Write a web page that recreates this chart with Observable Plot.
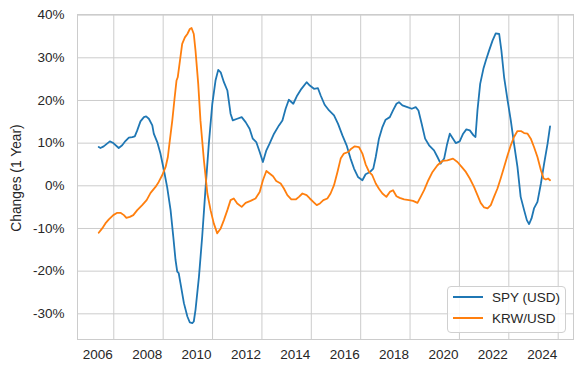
<!DOCTYPE html>
<html>
<head>
<meta charset="utf-8">
<script src="https://cdn.jsdelivr.net/npm/d3@7"></script>
<script src="https://cdn.jsdelivr.net/npm/@observablehq/plot@0.6"></script>
<style>
  body { margin: 0; background: #fff; }
  #wrap { position: relative; width: 582px; height: 373px; font-family: "Liberation Sans", Arial, sans-serif; color: #262626; }
  #legend { position: absolute; left: 447px; top: 286px; width: 117px; height: 45px; border: 1px solid #d0d0d0; border-radius: 4px; background: rgba(255,255,255,0.85); font-size: 13.5px; }
  .row { position: absolute; left: 0; height: 16px; }
  .row svg { position: absolute; left: 4px; top: 0; }
  .row span { position: absolute; left: 44px; top: 1px; line-height: 16px; white-space: nowrap; }
</style>
</head>
<body>
<div id="wrap"></div>
<script>
// Series: SPY (USD) 1-year change, percent, by decimal year
const spyDate = [2005.39,2005.46,2005.59,2005.84,2005.98,2006.20,2006.34,2006.47,2006.61,2006.75,2006.85,2006.95,2007.08,2007.22,2007.31,2007.42,2007.56,2007.62,2007.76,2007.89,2008.03,2008.16,2008.30,2008.41,2008.50,2008.57,2008.63,2008.70,2008.84,2008.98,2009.08,2009.18,2009.24,2009.31,2009.45,2009.58,2009.72,2009.85,2009.99,2010.12,2010.23,2010.33,2010.46,2010.60,2010.73,2010.82,2011.00,2011.18,2011.34,2011.50,2011.63,2011.77,2011.91,2012.04,2012.18,2012.31,2012.49,2012.69,2012.83,2012.96,2013.09,2013.27,2013.43,2013.60,2013.81,2013.94,2014.11,2014.27,2014.38,2014.54,2014.72,2014.92,2015.08,2015.26,2015.43,2015.59,2015.73,2015.89,2016.07,2016.20,2016.38,2016.51,2016.61,2016.74,2016.88,2017.01,2017.18,2017.31,2017.45,2017.55,2017.69,2017.89,2018.07,2018.23,2018.34,2018.47,2018.61,2018.77,2018.97,2019.11,2019.24,2019.38,2019.49,2019.61,2019.74,2019.85,2020.01,2020.15,2020.28,2020.42,2020.57,2020.65,2020.73,2020.84,2020.97,2021.07,2021.20,2021.34,2021.47,2021.61,2021.70,2021.81,2021.95,2022.08,2022.21,2022.35,2022.48,2022.62,2022.73,2022.82,2022.92,2023.02,2023.16,2023.30,2023.43,2023.57,2023.67];
const spyValue = [9.09,8.86,9.25,10.42,10.02,8.86,9.49,10.49,11.29,11.43,11.59,12.99,15.09,16.10,16.26,15.72,14.16,12.22,10.26,7.55,3.64,-0.26,-5.70,-11.94,-17.38,-20.12,-20.49,-22.83,-27.50,-30.63,-32.03,-32.17,-31.80,-29.07,-21.29,-11.94,-0.26,9.88,19.23,24.67,27.17,26.61,24.28,22.34,16.89,15.33,15.72,16.10,14.93,13.39,11.05,10.26,7.92,5.58,8.32,9.88,12.22,14.16,15.33,18.06,20.16,19.23,21.17,22.73,24.28,23.50,22.73,22.87,21.17,19.00,17.66,16.50,14.56,11.82,9.49,6.38,4.04,2.08,1.31,2.71,3.25,4.04,6.75,11.05,13.76,15.49,16.10,17.66,19.23,19.60,18.83,18.43,18.06,18.43,17.66,14.56,11.05,9.49,8.32,6.75,5.21,6.38,9.49,12.22,11.05,10.02,10.42,12.22,13.22,12.99,11.82,11.43,17.66,23.90,27.41,29.35,31.68,34.02,35.72,35.58,31.68,25.44,20.00,15.33,9.88,4.42,-2.59,-5.70,-8.04,-8.97,-7.64,-5.30,-3.76,0.54,5.21,9.88,13.93];

// Series: KRW/USD 1-year change, percent, by decimal year
const krwDate = [2005.39,2005.53,2005.66,2005.80,2005.98,2006.14,2006.27,2006.41,2006.51,2006.65,2006.79,2006.95,2007.15,2007.33,2007.49,2007.69,2007.82,2007.96,2008.10,2008.19,2008.27,2008.37,2008.46,2008.54,2008.59,2008.68,2008.77,2008.88,2008.98,2009.08,2009.15,2009.24,2009.31,2009.42,2009.51,2009.65,2009.79,2009.92,2010.05,2010.19,2010.33,2010.46,2010.60,2010.73,2010.86,2011.00,2011.18,2011.34,2011.54,2011.74,2011.91,2012.04,2012.18,2012.31,2012.45,2012.58,2012.76,2012.89,2013.03,2013.19,2013.37,2013.50,2013.64,2013.81,2013.94,2014.08,2014.22,2014.35,2014.49,2014.65,2014.78,2014.92,2015.06,2015.19,2015.32,2015.49,2015.62,2015.76,2015.93,2016.07,2016.20,2016.34,2016.47,2016.61,2016.74,2016.88,2017.04,2017.18,2017.31,2017.45,2017.58,2017.76,2017.96,2018.12,2018.30,2018.43,2018.57,2018.74,2018.91,2019.11,2019.31,2019.51,2019.74,2019.92,2020.09,2020.26,2020.42,2020.59,2020.73,2020.86,2021.00,2021.14,2021.27,2021.40,2021.54,2021.67,2021.81,2021.95,2022.08,2022.21,2022.35,2022.49,2022.62,2022.76,2022.89,2023.02,2023.16,2023.30,2023.41,2023.50,2023.59,2023.67];
const krwValue = [-11.00,-9.98,-8.81,-7.87,-6.87,-6.33,-6.33,-6.87,-7.50,-7.27,-6.87,-5.70,-4.53,-3.36,-1.66,-0.26,0.91,2.48,4.42,6.75,10.65,15.33,20.40,24.67,25.44,29.35,33.25,34.79,35.58,36.75,36.99,35.58,31.68,23.90,15.33,5.98,-1.80,-5.70,-8.81,-11.14,-9.98,-8.04,-5.70,-3.36,-2.97,-4.14,-4.93,-3.99,-3.53,-2.97,-1.43,1.31,3.48,2.87,2.24,1.14,0.54,-0.63,-2.20,-3.20,-3.20,-2.59,-1.80,-2.20,-2.97,-3.76,-4.53,-4.14,-3.36,-2.97,-1.80,0.14,3.25,6.38,7.55,7.92,8.71,9.25,9.09,7.55,5.05,3.25,2.48,0.54,-0.68,-1.80,-2.59,-1.43,-1.03,-2.43,-2.83,-3.20,-3.36,-3.53,-4.00,-2.59,-1.03,1.31,3.25,4.81,5.82,5.98,6.38,5.58,4.42,3.25,1.71,-0.26,-2.20,-4.00,-5.07,-5.30,-4.53,-2.59,-0.63,1.71,4.42,7.15,9.49,11.43,12.83,12.83,12.36,12.22,11.05,9.09,6.75,3.64,1.71,1.47,1.71,1.31];

// Tick labels
const xTicks = [2006,2008,2010,2012,2014,2016,2018,2020,2022,2024];
const yTicks = [-30,-20,-10,0,10,20,30,40];
const seriesNames = ["SPY (USD)", "KRW/USD"];
const seriesColors = ["#1f77b4", "#ff7f0e"];
const yLabel = "Changes (1 Year)";

const spy = spyDate.map((d, i) => ({date: d, value: spyValue[i]}));
const krw = krwDate.map((d, i) => ({date: d, value: krwValue[i]}));

const chart = Plot.plot({
  width: 582,
  height: 373,
  marginLeft: 77,
  marginRight: 9,
  marginTop: 14,
  marginBottom: 34,
  style: {fontFamily: '"Liberation Sans", Arial, sans-serif', fontSize: "13.5px", color: "#262626", background: "#fff"},
  x: {domain: [2004.53, 2024.62]},
  y: {domain: [-36.02, 40.15]},
  marks: [
    Plot.gridX(xTicks, {stroke: "#cccccc", strokeOpacity: 1, strokeWidth: 1}),
    Plot.gridY(yTicks, {stroke: "#cccccc", strokeOpacity: 1, strokeWidth: 1}),
    Plot.frame({stroke: "#cccccc", strokeWidth: 1}),
    Plot.line(spy, {x: "date", y: "value", stroke: seriesColors[0], strokeWidth: 1.8}),
    Plot.line(krw, {x: "date", y: "value", stroke: seriesColors[1], strokeWidth: 1.8}),
    Plot.axisX(xTicks, {tickSize: 0, tickPadding: 10, dx: -16, tickFormat: d => String(d), label: null, fill: "#262626"}),
    Plot.axisY(yTicks, {tickSize: 0, tickPadding: 13, tickFormat: d => d + "%", label: null, fill: "#262626"}),
    Plot.text([yLabel], {frameAnchor: "left", textAnchor: "middle", lineAnchor: "middle", dx: -61, dy: 1, rotate: -90, text: d => d, fill: "#262626", fontSize: 13.8})
  ]
});

const wrap = document.getElementById("wrap");
wrap.appendChild(chart);

const legend = document.createElement("div");
legend.id = "legend";
seriesNames.forEach((name, i) => {
  const row = document.createElement("div");
  row.className = "row";
  row.style.top = (i === 0 ? 2 : 23) + "px";
  row.innerHTML = `<svg width="32" height="16"><line x1="1" x2="31" y1="8" y2="8" stroke="${seriesColors[i]}" stroke-width="2"/></svg><span>${name}</span>`;
  legend.appendChild(row);
});
wrap.appendChild(legend);
</script>
</body>
</html>
